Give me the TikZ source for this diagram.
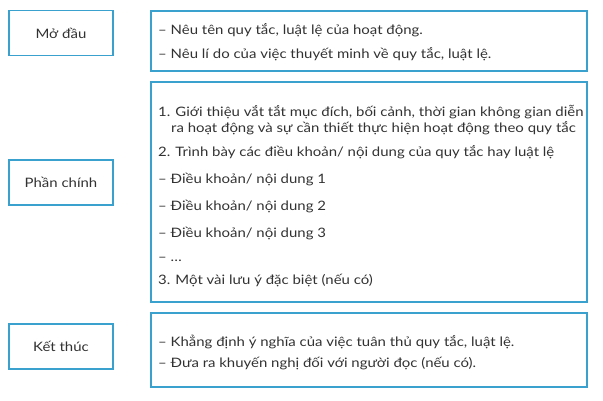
\documentclass[tikz,border=0pt]{standalone}
\usepackage{fontspec}
\setmainfont[FakeStretch=1.15]{Lato}
\definecolor{boxblue}{RGB}{58,160,206}
\definecolor{txt}{RGB}{50,50,50}
\begin{document}
\begin{tikzpicture}[x=1pt,y=-1pt,
  lbox/.style={draw=boxblue,line width=1.8pt,minimum width=104pt,minimum height=45pt,inner sep=0pt,text=txt,font=\fontsize{13}{15}\selectfont},
  rbox/.style={draw=boxblue,line width=1.8pt,inner sep=0pt},
  ln/.style={anchor=base west,inner sep=0pt,text=txt,font=\fontsize{13}{15}\selectfont}]
\useasboundingbox (0,0) rectangle (603,400);
% left boxes
\node[lbox] (mo) at (61,33) {Mở đầu};
\node[lbox] (phan) at (61,182.5) {Phần chính};
\node[lbox] (ket) at (61,346.5) {Kết thúc};
% right boxes
\node[rbox,minimum width=436pt,minimum height=60pt] (r1) at (369,41) {};
\node[rbox,minimum width=436pt,minimum height=220pt] (r2) at (369,192) {};
\node[rbox,minimum width=436pt,minimum height=74pt] (r3) at (369,350) {};
% text box 1
\node[ln] (t11) at (158,34) {– Nêu tên quy tắc, luật lệ của hoạt động.};
\node[ln] (t12) at (158,58) {– Nêu lí do của việc thuyết minh về quy tắc, luật lệ.};
% text box 2
\node[ln] (t21) at (158,116) {1. Giới thiệu vắt tắt mục đích, bối cảnh, thời gian không gian diễn};
\node[ln] (t22) at (171,132) {ra hoạt động và sự cần thiết thực hiện hoạt động theo quy tắc};
\node[ln] (t23) at (158,156) {2. Trình bày các điều khoản/ nội dung của quy tắc hay luật lệ};
\node[ln] (t24) at (158,183) {– Điều khoản/ nội dung 1};
\node[ln] (t25) at (158,210) {– Điều khoản/ nội dung 2};
\node[ln] (t26) at (158,237) {– Điều khoản/ nội dung 3};
\node[ln] (t27) at (158,261) {– …};
\node[ln] (t28) at (158,284) {3. Một vài lưu ý đặc biệt (nếu có)};
% text box 3
\node[ln] (t31) at (158,346) {– Khẳng định ý nghĩa của việc tuân thủ quy tắc, luật lệ.};
\node[ln] (t32) at (158,367) {– Đưa ra khuyến nghị đối với người đọc (nếu có).};
\end{tikzpicture}
\end{document}
